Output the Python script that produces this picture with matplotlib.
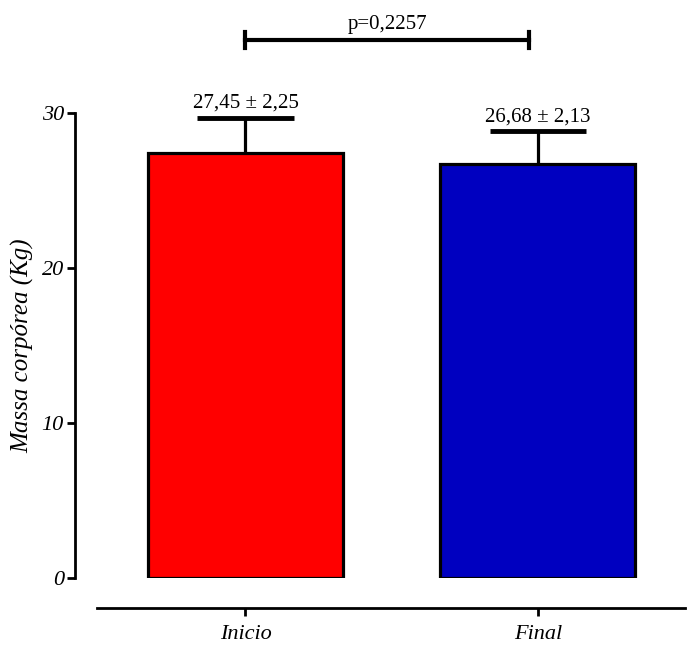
import numpy as np
import matplotlib
matplotlib.use('Agg')
import matplotlib.pyplot as plt

# values
groups = ['Inicio', 'Final']
means = [27.45, 26.68]
sds = [2.25, 2.13]
bar_colors = ['#ff0000', '#0000c0']
value_labels = ['27,45 \u00b1 2,25', '26,68 \u00b1 2,13']
p_text = 'p=0,2257'
yticks = [0, 10, 20, 30]

plt.rcParams['font.family'] = ['Liberation Serif', 'DejaVu Serif']

W, H = 693, 645
fig = plt.figure(figsize=(W / 100, H / 100), dpi=100)
# axes box in pixels: left 75, right 685, y=0 at 578, y=30 at 113
ax = fig.add_axes([75 / W, (H - 578) / H, (685 - 75) / W, (578 - 113) / H])

x = np.arange(len(groups))
ax.bar(x, means, width=0.667, color=bar_colors, edgecolor='black', linewidth=2.3, zorder=2)
ax.errorbar(x, means, yerr=[np.zeros(len(sds)), sds], fmt='none', ecolor='black',
            elinewidth=2.3, capsize=0, zorder=1)
for xi, m, s, lab in zip(x, means, sds, value_labels):
    ax.plot([xi - 0.165, xi + 0.165], [m + s, m + s], color='black', lw=3.5,
            solid_capstyle='butt', clip_on=False)
    ax.text(xi, m + s + 0.3, lab, ha='center', va='bottom', fontsize=15)

# significance bracket
yb = 34.7
ax.plot([0, 0.97], [yb, yb], color='black', lw=3, clip_on=False)
for xe in (0, 0.97):
    ax.plot([xe, xe], [yb - 0.5, yb + 0.5], color='black', lw=3, clip_on=False)
ax.text(0.485, yb + 0.4, p_text, ha='center', va='bottom', fontsize=15)

ax.set_xlim(-0.583, 1.503)
ax.set_ylim(0, 30)

for side in ('top', 'right'):
    ax.spines[side].set_visible(False)
ax.spines['left'].set_linewidth(2)
ax.spines['bottom'].set_linewidth(2)
ax.spines['bottom'].set_position(('outward', 21.6))
ax.spines['bottom'].set_bounds(-0.508, 1.503)
ax.tick_params(axis='y', length=6, width=2, pad=2)
ax.tick_params(axis='x', length=6, width=2, pad=6)

ax.set_yticks(yticks)
ax.set_yticklabels([str(t) for t in yticks], fontstyle='italic', fontsize=16)
ax.set_xticks(x)
ax.set_xticklabels(groups, fontstyle='italic', fontsize=16)
ax.set_ylabel('Massa corp\u00f3rea (Kg)', fontstyle='italic', fontsize=18, labelpad=5)

fig.savefig('out.png', dpi=100)
